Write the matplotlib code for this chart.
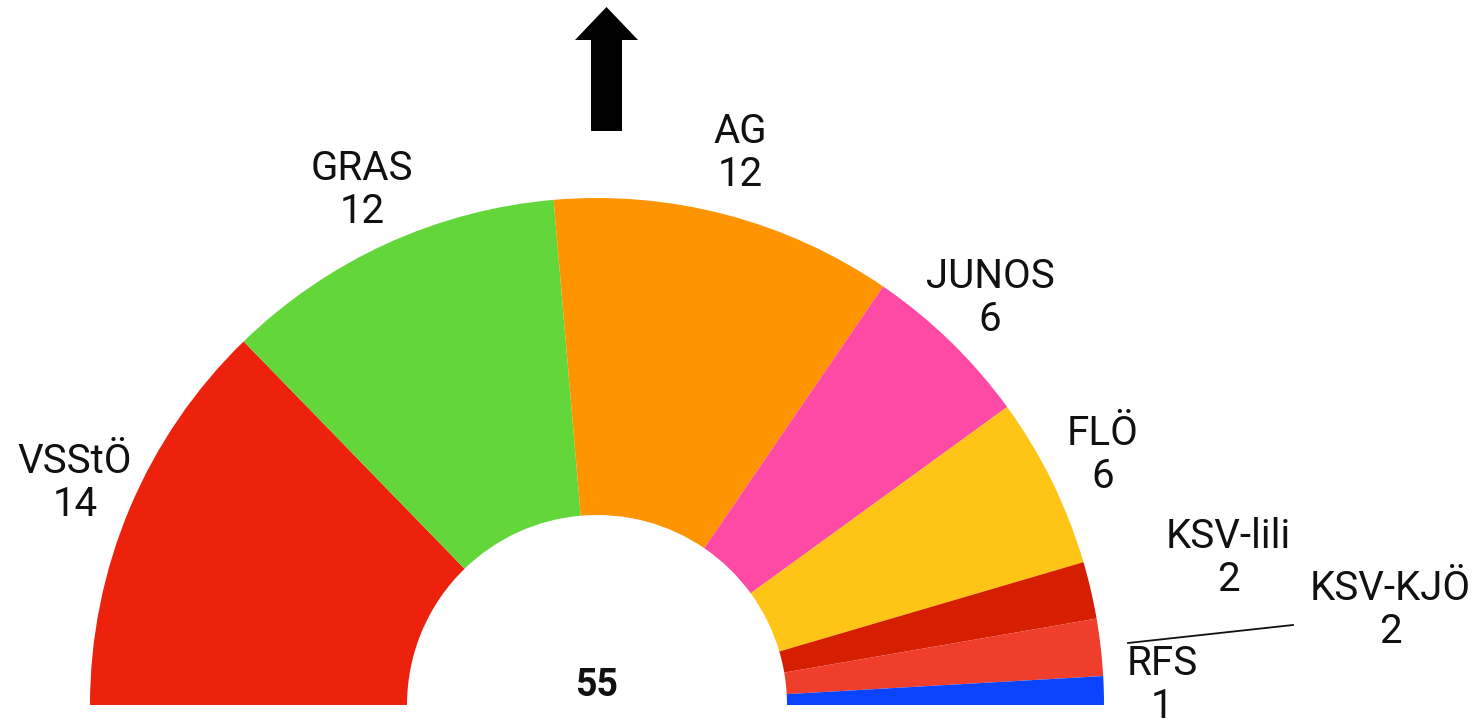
import matplotlib.pyplot as plt
from matplotlib.patches import FancyArrow

parties = ["VSStÖ", "GRAS", "AG", "JUNOS", "FLÖ", "KSV-lili", "KSV-KJÖ", "RFS"]
seats = [14, 12, 12, 6, 6, 2, 2, 1]
colors = ["#ED220D", "#63D63A", "#FE9400", "#FF4AA5", "#FEC516", "#D51F00", "#EF3E2C", "#0A44FF"]
total = sum(seats)

# label positions (pixels, y measured from top)
label_pos = [(75, 483), (362, 190), (740, 153), (990, 298), (1103, 455),
             (1228, 558), (1390, 610), (1162, 685)]

plt.rcParams["font.family"] = ["Roboto", "DejaVu Sans"]

W, H = 1483, 726
fig = plt.figure(figsize=(W / 100, H / 100), dpi=100)
ax = fig.add_axes([0, 0, 1, 1])

cx, cy = 597, H - 705
r_out, r_in = 507, 190

# half donut: the hidden wedge fills the lower half
ax.pie(seats + [total], colors=colors + ["none"], startangle=180, counterclock=False,
       radius=r_out, center=(cx, cy),
       wedgeprops=dict(width=r_out - r_in, linewidth=0, antialiased=True))

ax.set_xlim(0, W)
ax.set_ylim(0, H)
ax.set_aspect("equal")
ax.axis("off")

for name, n, (x, y) in zip(parties, seats, label_pos):
    ax.text(x, H - y, f"{name}\n{n}", ha="center", va="center", fontsize=29,
            color="#111111", linespacing=1.1)

ax.plot([1128, 1293], [H - 643, H - 625], color="#111111", lw=1.3)

ax.text(cx, H - 685, str(total), ha="center", va="center", fontsize=27,
        fontweight="bold", color="#111111")

ax.add_patch(FancyArrow(606.5, H - 131, 0, 124, width=31, head_width=63,
                        head_length=33, length_includes_head=True,
                        color="black", lw=0))

fig.savefig("out.png", dpi=100)
